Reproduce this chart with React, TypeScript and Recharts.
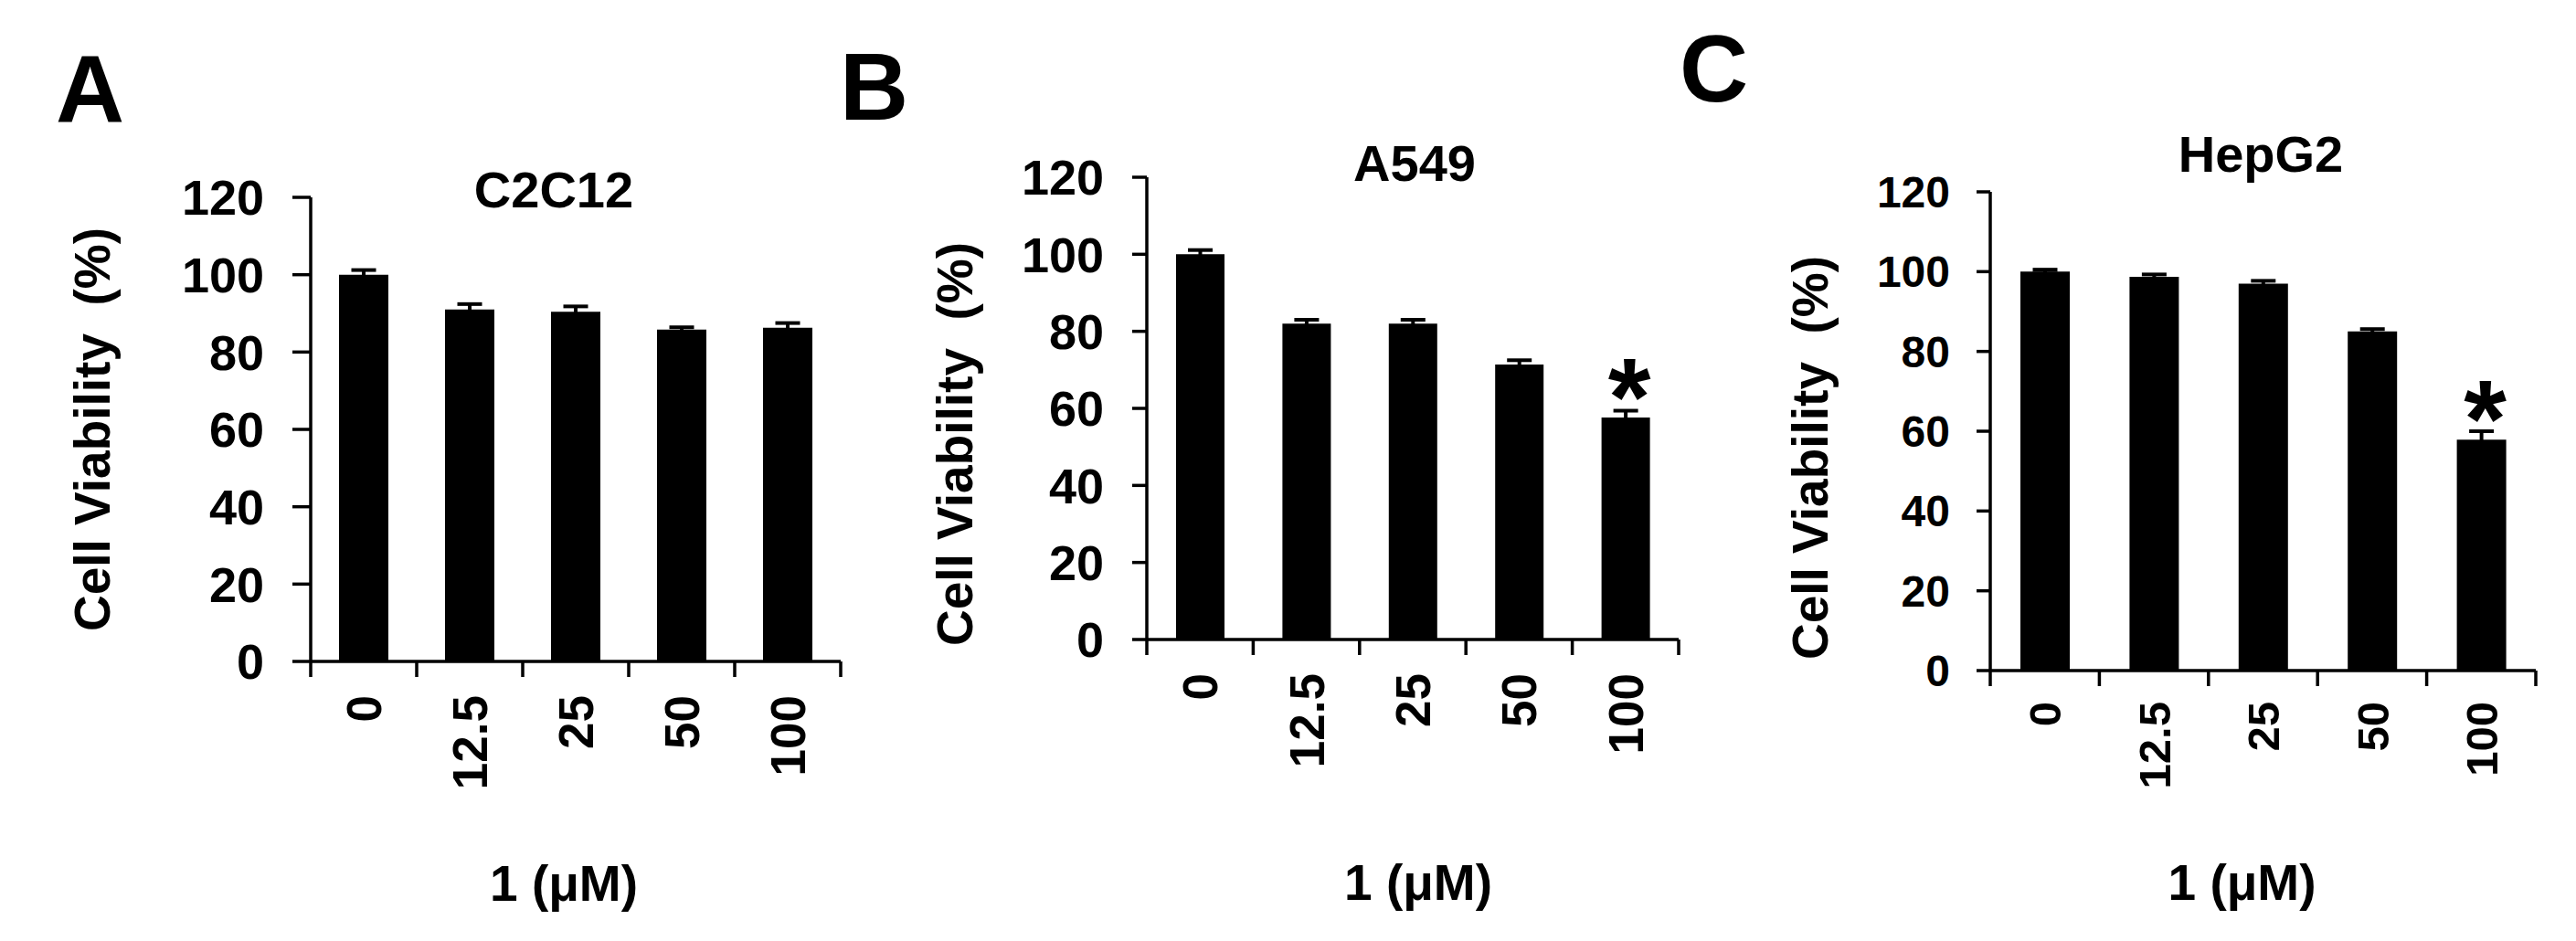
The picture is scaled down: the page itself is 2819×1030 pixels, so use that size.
import React from "react";
import { BarChart, Bar, XAxis, YAxis, ErrorBar, LabelList } from "recharts";

// dose of compound 1 (µM), shared by the three panels
const doses = ["0", "12.5", "25", "50", "100"];
const yTicks = [0, 20, 40, 60, 80, 100, 120];

// C2C12
const c2c12Viability = [100, 91, 90.4, 85.8, 86.3];
const c2c12Error = [1.2, 1.4, 1.4, 0.6, 1.2];
const c2c12Marks = ["", "", "", "", ""];

// A549
const a549Viability = [100, 82, 82, 71.4, 57.6];
const a549Error = [1.1, 1.0, 1.0, 1.1, 1.8];
const a549Marks = ["", "", "", "", "*"];

// HepG2
const hepg2Viability = [100, 98.7, 97, 85, 57.9];
const hepg2Error = [0.5, 0.6, 0.7, 0.6, 2.1];
const hepg2Marks = ["", "", "", "", "*"];

type Row = { dose: string; value: number; err: number; mark: string };

const makeRows = (values: number[], errors: number[], marks: string[]): Row[] =>
  doses.map((dose, i) => ({ dose, value: values[i], err: errors[i], mark: marks[i] }));

const FONT = '"Liberation Sans", Arial, Helvetica, sans-serif';
const STROKE = 3.5;

type PanelProps = {
  rows: Row[];
  left: number;
  width: number;
  margin: { top: number; right: number; bottom: number; left: number };
  yTickSize: number;
  yTickMargin: number;
  yFont: number;
  xFont: number;
  xGap: number;
  barSize: number;
  yLabelDx: number;
  yLabelDy: number;
  xLabelDx: number;
  xLabelOffset: number;
};

const XTick = (props: any) => {
  const { x, y, payload, index, fontSize, gap, count } = props;
  const half = payload && payload.offset ? payload.offset : 58;
  return (
    <g>
      <line x1={x - half} x2={x - half} y1={y} y2={y + 17} stroke="#000" strokeWidth={STROKE} />
      {index === count - 1 && (
        <line x1={x + half} x2={x + half} y1={y} y2={y + 17} stroke="#000" strokeWidth={STROKE} />
      )}
      <text
        x={x}
        y={y + gap}
        dy="0.36em"
        transform={`rotate(-90, ${x}, ${y + gap})`}
        textAnchor="end"
        fontSize={fontSize}
        fontWeight="bold"
        fontFamily={FONT}
        fill="#000"
      >
        {payload.value}
      </text>
    </g>
  );
};

const renderMark = (props: any) => {
  const { x, y, width, value } = props;
  if (!value) return null;
  return (
    <text
      x={x + width / 2 + 4}
      y={y + 19}
      textAnchor="middle"
      fontSize={120}
      fontWeight="bold"
      fontFamily={FONT}
      fill="#000"
    >
      {value}
    </text>
  );
};

const Panel: React.FC<PanelProps> = (p) => (
  <div style={{ position: "absolute", left: p.left, top: 0 }}>
    <BarChart width={p.width} height={1030} data={p.rows} margin={p.margin}>
      <XAxis
        dataKey="dose"
        height={230}
        interval={0}
        tickSize={0}
        tickMargin={0}
        tickLine={false}
        axisLine={{ stroke: "#000", strokeWidth: STROKE }}
        tick={(t: any) => (
          <XTick {...t} fontSize={p.xFont} gap={p.xGap} count={doses.length} />
        )}
        label={{
          value: "1 (\u03bcM)",
          position: "bottom",
          offset: p.xLabelOffset,
          dx: p.xLabelDx,
          fontSize: 55,
          fontWeight: "bold",
          fontFamily: FONT,
          fill: "#000",
        }}
      />
      <YAxis
        width={120}
        domain={[0, 120]}
        ticks={yTicks}
        interval={0}
        tickSize={p.yTickSize}
        tickMargin={p.yTickMargin}
        stroke="#000"
        tickLine={{ stroke: "#000", strokeWidth: STROKE }}
        axisLine={{ stroke: "#000", strokeWidth: STROKE }}
        tick={{ fontSize: p.yFont, fontWeight: "bold", fill: "#000", fontFamily: FONT }}
        label={{
          value: "Cell Viability\u00a0 (%)",
          angle: -90,
          position: "center",
          dx: p.yLabelDx,
          dy: p.yLabelDy,
          fontSize: 55,
          fontWeight: "bold",
          fontFamily: FONT,
          fill: "#000",
        }}
      />
      <Bar dataKey="value" fill="#000" barSize={p.barSize} isAnimationActive={false}>
        <ErrorBar
          dataKey="err"
          direction="y"
          width={13.5}
          stroke="#000"
          strokeWidth={4}
          isAnimationActive={false}
        />
        <LabelList dataKey="mark" content={renderMark} />
      </Bar>
    </BarChart>
  </div>
);

const textStyle = { fontFamily: FONT, fontWeight: "bold" as const, fill: "#000" };

export default function App() {
  return (
    <div
      style={{
        position: "absolute",
        left: 0,
        top: 0,
        width: 2819,
        height: 1030,
        background: "#fff",
        overflow: "hidden",
      }}
    >
      <Panel
        rows={makeRows(c2c12Viability, c2c12Error, c2c12Marks)}
        left={0}
        width={930}
        margin={{ top: 216, right: 10, bottom: 76, left: 220 }}
        yTickSize={20}
        yTickMargin={31}
        yFont={54}
        xFont={53}
        xGap={37}
        barSize={54}
        yLabelDx={-180}
        yLabelDy={0}
        xLabelDx={-13}
        xLabelOffset={-7}
      />
      <Panel
        rows={makeRows(a549Viability, a549Error, a549Marks)}
        left={930}
        width={930}
        margin={{ top: 194, right: 23, bottom: 100, left: 205 }}
        yTickSize={16}
        yTickMargin={31}
        yFont={54}
        xFont={53}
        xGap={37}
        barSize={53}
        yLabelDx={-151}
        yLabelDy={39}
        xLabelDx={6}
        xLabelOffset={16}
      />
      <Panel
        rows={makeRows(hepg2Viability, hepg2Error, hepg2Marks)}
        left={1860}
        width={959}
        margin={{ top: 210, right: 44, bottom: 66, left: 198 }}
        yTickSize={15}
        yTickMargin={29}
        yFont={48}
        xFont={49}
        xGap={34}
        barSize={54}
        yLabelDx={-138}
        yLabelDy={29}
        xLabelDx={-23}
        xLabelOffset={-18}
      />
      <svg
        width={2819}
        height={1030}
        style={{ position: "absolute", left: 0, top: 0, pointerEvents: "none" }}
      >
        <text x={61} y={133} fontSize={104} {...textStyle}>A</text>
        <text x={919} y={131} fontSize={104} {...textStyle}>B</text>
        <text x={1838} y={111} fontSize={104} {...textStyle}>C</text>
        <text x={606} y={227} fontSize={56} textAnchor="middle" {...textStyle}>C2C12</text>
        <text x={1548} y={198} fontSize={56} textAnchor="middle" {...textStyle}>A549</text>
        <text x={2474} y={188} fontSize={56} textAnchor="middle" {...textStyle}>HepG2</text>
      </svg>
    </div>
  );
}
